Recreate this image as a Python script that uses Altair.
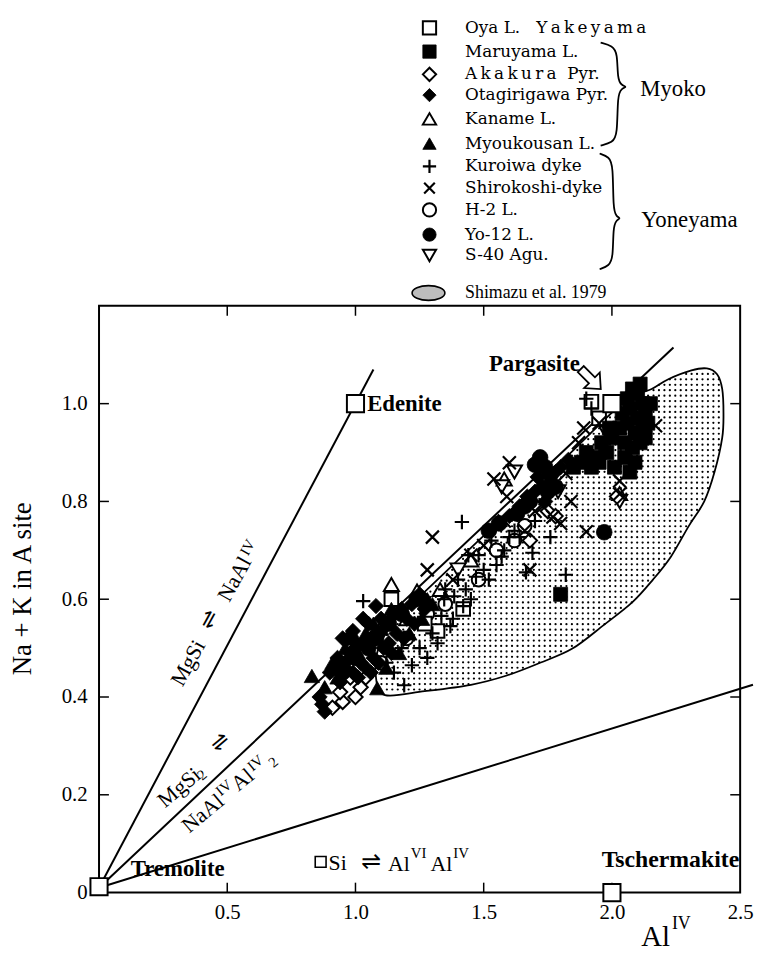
import altair as alt
import pandas as pd
import numpy as np

# ---------------- data ----------------
x_ticks = [0.5, 1.0, 1.5, 2.0, 2.5]
y_ticks = [0.0, 0.2, 0.4, 0.6, 0.8, 1.0]

endmember_names = ["Tremolite", "Edenite", "Pargasite", "Tschermakite"]
endmember_x = [0.0, 1.0, 2.0, 2.0]
endmember_y = [0.012, 1.0, 1.0, 0.0]

line_edenite_x = [0.0, 1.07]
line_edenite_y = [0.01, 1.07]
line_pargasite_x = [0.0, 2.24]
line_pargasite_y = [0.01, 1.115]
line_tscherm_x = [0.0, 2.55]
line_tscherm_y = [0.01, 0.425]

shimazu_x = [1.115, 1.27, 1.45, 1.59, 1.72, 1.846, 1.97, 2.08, 2.16, 2.23,
             2.30, 2.36, 2.40, 2.43, 2.435, 2.43, 2.41, 2.37, 2.31, 2.22,
             2.155, 2.05, 1.85, 1.65, 1.45, 1.28, 1.16, 1.09, 1.08]
shimazu_y = [0.404, 0.412, 0.425, 0.444, 0.47, 0.499, 0.548, 0.594, 0.64, 0.687,
             0.75, 0.80, 0.86, 0.93, 0.98, 1.03, 1.06, 1.072, 1.068, 1.05,
             1.03, 1.005, 0.905, 0.805, 0.705, 0.62, 0.56, 0.50, 0.44]

oya_x = [1.92, 1.14, 1.32, 1.27, 1.42, 1.95]
oya_y = [1.004, 0.60, 0.535, 0.55, 0.58, 0.97]

maruyama_x = [2.08, 2.10, 2.12, 2.07, 2.10, 2.13, 2.06, 2.09, 2.12, 2.05,
              2.08, 2.11, 2.05, 2.09, 2.15, 2.14, 2.03, 2.04, 1.98, 1.95,
              1.92, 1.88, 1.85, 1.90, 1.96, 2.00, 2.01, 2.07, 1.80, 2.11,
              2.13, 2.06, 1.93, 1.99]
maruyama_y = [1.03, 1.02, 1.00, 0.99, 0.97, 0.98, 0.96, 0.94, 0.95, 0.92,
              0.91, 0.92, 0.89, 0.88, 1.00, 0.96, 0.95, 0.98, 0.90, 0.88,
              0.87, 0.88, 0.87, 0.90, 0.92, 0.93, 0.87, 0.86, 0.61, 1.04,
              0.93, 1.01, 0.89, 0.95]

akakura_x = [0.91, 0.95, 1.00, 1.02, 0.94, 0.98, 1.04, 1.75, 1.78, 2.02, 1.68]
akakura_y = [0.378, 0.39, 0.40, 0.42, 0.41, 0.44, 0.44, 0.78, 0.77, 0.81, 0.72]

otagiri_x = [0.87, 0.88, 0.86, 0.90, 0.92, 0.96, 0.99, 1.08, 1.03, 1.06,
             1.00, 0.98, 1.02, 1.05, 1.10, 1.12, 1.15, 1.09, 0.94, 1.01,
             1.04, 1.07, 1.13, 1.18, 0.95, 1.73, 1.76, 1.70, 1.78, 1.67,
             1.16, 1.20, 1.22, 1.25, 1.11, 1.14, 1.19, 1.23, 1.27, 1.06,
             1.09, 0.99, 0.93, 0.97, 1.03, 1.71, 1.74, 1.60, 1.64, 1.80, 1.83]
otagiri_y = [0.385, 0.37, 0.40, 0.45, 0.46, 0.47, 0.535, 0.586, 0.51, 0.52,
             0.50, 0.49, 0.47, 0.55, 0.56, 0.55, 0.57, 0.53, 0.43, 0.44,
             0.46, 0.48, 0.51, 0.58, 0.52, 0.83, 0.84, 0.82, 0.86, 0.81,
             0.53, 0.56, 0.59, 0.61, 0.50, 0.49, 0.52, 0.55, 0.58, 0.45,
             0.47, 0.45, 0.48, 0.52, 0.56, 0.85, 0.80, 0.77, 0.79, 0.87, 0.885]

kaname_x = [1.14, 1.24, 1.58, 2.03, 1.16, 1.33, 1.45, 1.20]
kaname_y = [0.63, 0.617, 0.846, 0.816, 0.58, 0.62, 0.68, 0.56]

myoukousan_x = [0.83, 1.085, 0.88, 0.93, 0.97, 1.01, 1.04, 1.07, 1.10, 1.14,
                0.96, 1.00, 1.28, 0.91, 1.12, 1.17, 1.21, 1.26, 1.30]
myoukousan_y = [0.443, 0.418, 0.42, 0.44, 0.46, 0.49, 0.53, 0.55, 0.54, 0.58,
                0.50, 0.52, 0.60, 0.47, 0.46, 0.49, 0.53, 0.56, 0.59]

kuroiwa_x = [1.03, 1.415, 1.82, 1.19, 1.90, 1.92, 1.665, 1.69, 1.76, 1.60,
             1.57, 1.50, 1.47, 1.43, 1.385, 1.346, 1.64, 1.15, 1.22, 1.32,
             1.37, 1.42, 1.335, 1.25, 1.30, 1.38, 1.45, 1.52, 1.55, 1.58,
             1.62, 1.70, 1.28, 1.18, 1.12, 1.40, 1.48, 1.35, 1.44, 1.53]
kuroiwa_y = [0.596, 0.758, 0.65, 0.424, 1.01, 0.99, 0.655, 0.695, 0.727, 0.727,
             0.687, 0.66, 0.646, 0.62, 0.606, 0.60, 0.727, 0.45, 0.465, 0.51,
             0.545, 0.586, 0.566, 0.50, 0.53, 0.56, 0.60, 0.64, 0.67, 0.70,
             0.74, 0.76, 0.48, 0.50, 0.47, 0.64, 0.69, 0.62, 0.69, 0.72]

shirokoshi_x = [2.17, 1.60, 1.54, 1.30, 1.90, 2.03, 2.03, 1.89, 1.77, 1.80,
                1.68, 1.28, 1.59, 1.73, 1.82, 1.95, 1.87, 1.66, 1.50, 1.45,
                1.38, 1.70, 1.58, 1.84]
shirokoshi_y = [0.955, 0.879, 0.846, 0.727, 0.738, 0.842, 0.815, 0.95, 0.768, 0.755,
                0.66, 0.66, 0.81, 0.79, 0.857, 0.96, 0.92, 0.74, 0.71, 0.69,
                0.64, 0.78, 0.76, 0.80]

h2_x = [1.20, 1.35, 1.48, 1.55, 1.62, 1.10, 1.28, 1.66]
h2_y = [0.52, 0.59, 0.64, 0.70, 0.72, 0.47, 0.57, 0.75]

yo12_x = [1.72, 1.74, 1.70, 1.76, 1.66, 1.63, 1.56, 1.52, 1.97, 1.68,
          1.78, 1.75, 1.00, 1.05, 0.95, 1.08, 1.13, 1.18, 1.24]
yo12_y = [0.89, 0.87, 0.875, 0.855, 0.79, 0.775, 0.755, 0.74, 0.737, 0.80,
          0.83, 0.82, 0.48, 0.50, 0.45, 0.52, 0.55, 0.57, 0.60]

s40_x = [1.57, 2.03, 1.62, 1.79, 1.98, 1.40]
s40_y = [0.83, 0.80, 0.86, 0.82, 0.94, 0.66]

TS = "\u2009"
legend_labels = ["Oya L.\u00a0\u00a0 " + TS.join("Yakeyama"), "Maruyama L.",
                 TS.join("Akakura") + "\u00a0\u00a0Pyr.", "Otagirigawa Pyr.",
                 "Kaname L.", "Myoukousan L.", "Kuroiwa dyke", "Shirokoshi-dyke",
                 "H-2 L.", "Yo-12 L.", "S-40 Agu."]
shimazu_label = "Shimazu et al. 1979"

# ---------------- layout / style ----------------
W, H = 648, 593
X0, Y0 = 100, 304          # page position of the plot area's top-left corner
XD, YD = [0.0, 2.5], [0.0, 1.2]
SERIF = "Liberation Serif"
LEGF = "DejaVu Serif"
STIPPLE_STEP = 5.5         # px spacing of the stipple texture

PLUS = "M-1,0L1,0M0,-1L0,1"
XMARK = "M-0.8,-0.8L0.8,0.8M-0.8,0.8L0.8,-0.8"
ELLIPSE = "M-1,0A1,0.45,0,1,0,1,0A1,0.45,0,1,0,-1,0Z"
ARROW = "M-0.3,-1L0.3,-1L0.3,0.12L0.78,0.12L0,1L-0.78,0.12L-0.3,0.12Z"

def vx(px):
    return px - X0

def vy(py):
    return py - Y0

def dx(px):
    return (px - X0) / W * (XD[1] - XD[0]) + XD[0]

def dy(py):
    return (Y0 + H - py) / H * (YD[1] - YD[0]) + YD[0]

xs = alt.Scale(domain=XD, nice=False, zero=False)
ys = alt.Scale(domain=YD, nice=False, zero=False)
xaxis = alt.Axis(values=x_ticks, format=".1f", labelFont=SERIF, labelFontSize=21,
                 labelColor="black", ticks=False, domain=False, grid=False,
                 labelPadding=9, title=None, labelFlush=False, labelOverlap=False)
yaxis = alt.Axis(values=y_ticks, labelExpr="datum.value == 0 ? '0' : format(datum.value, '.1f')",
                 labelFont=SERIF, labelFontSize=21, labelColor="black", ticks=False,
                 domain=False, grid=False, labelPadding=12, title=None,
                 labelFlush=False, labelOverlap=False)
XN = alt.X("x:Q", scale=xs, axis=xaxis)
YN = alt.Y("y:Q", scale=ys, axis=yaxis)

layers = []

# --- Shimazu et al. (1979) field: white region with a stipple texture ---
blob_df = pd.DataFrame({"x": shimazu_x, "y": shimazu_y, "o": list(range(len(shimazu_x)))})
layers.append(
    alt.Chart(blob_df).mark_line(interpolate="cardinal-closed", fill="white",
                                 stroke="black", strokeWidth=1.8)
    .encode(x=XN, y=YN, order="o:Q")
)

# texture: a regular pixel grid of dots kept inside the outline
poly_px = np.array([[X0 + (a - XD[0]) / (XD[1] - XD[0]) * W,
                     Y0 + H - (b - YD[0]) / (YD[1] - YD[0]) * H]
                    for a, b in zip(shimazu_x, shimazu_y)])
gx = np.arange(poly_px[:, 0].min(), poly_px[:, 0].max(), STIPPLE_STEP)
gy = np.arange(poly_px[:, 1].min(), poly_px[:, 1].max(), STIPPLE_STEP)
GX, GY = np.meshgrid(gx, gy)
GX, GY = GX.ravel(), GY.ravel()
inside = np.zeros(GX.shape, dtype=bool)
n = len(poly_px)
for i in range(n):
    x1, y1 = poly_px[i]
    x2, y2 = poly_px[(i + 1) % n]
    cond = (y1 > GY) != (y2 > GY)
    xint = x1 + (GY - y1) * (x2 - x1) / (y2 - y1 + 1e-12)
    inside ^= cond & (GX < xint)
dots_df = pd.DataFrame({"x": [dx(v) for v in GX[inside]], "y": [dy(v) for v in GY[inside]]})
layers.append(alt.Chart(dots_df).mark_point(shape="circle", filled=True, color="black",
                                            size=5, opacity=1)
              .encode(x=XN, y=YN))

# --- substitution lines ---
lines_df = pd.DataFrame({
    "x": line_edenite_x + line_pargasite_x + line_tscherm_x,
    "y": line_edenite_y + line_pargasite_y + line_tscherm_y,
    "g": ["e", "e", "p", "p", "t", "t"],
    "o": [0, 1, 0, 1, 0, 1],
})
layers.append(
    alt.Chart(lines_df).mark_line(color="black", strokeWidth=2)
    .encode(x=XN, y=YN, detail="g:N", order="o:Q")
)

# --- inward ticks ---
ty = pd.DataFrame({"y": [v for v in y_ticks if v > 0]})
tx = pd.DataFrame({"x": x_ticks[:-1]})
layers.append(alt.Chart(ty).mark_rule(color="black", strokeWidth=1.5)
              .encode(y=YN, x=alt.value(0), x2=alt.value(10)))
layers.append(alt.Chart(ty).mark_rule(color="black", strokeWidth=1.5)
              .encode(y=YN, x=alt.value(W), x2=alt.value(W - 10)))
layers.append(alt.Chart(tx).mark_rule(color="black", strokeWidth=1.5)
              .encode(x=XN, y=alt.value(0), y2=alt.value(10)))
layers.append(alt.Chart(tx).mark_rule(color="black", strokeWidth=1.5)
              .encode(x=XN, y=alt.value(H), y2=alt.value(H - 10)))

# --- sample symbols ---
STYLE = {
    "oya": ("square", "open", 190),
    "maruyama": ("square", "filled", 200),
    "akakura": ("diamond", "open", 210),
    "otagiri": ("diamond", "filled", 240),
    "kaname": ("triangle-up", "open", 230),
    "myoukousan": ("triangle-up", "filled", 240),
    "kuroiwa": (PLUS, "line", 210),
    "shirokoshi": (XMARK, "line", 270),
    "h2": ("circle", "open", 190),
    "yo12": ("circle", "filled", 250),
    "s40": ("triangle-down", "open", 230),
}


def sym_mark(chart, key, size=None):
    shape, kind, sz = STYLE[key]
    sz = size if size is not None else sz
    if kind == "filled":
        return chart.mark_point(shape=shape, filled=True, fill="black", stroke="black",
                                strokeWidth=0.8, size=sz, opacity=1)
    if kind == "open":
        return chart.mark_point(shape=shape, filled=True, fill="white", stroke="black",
                                strokeWidth=2, size=sz, opacity=1)
    return chart.mark_point(shape=shape, filled=False, stroke="black", strokeWidth=2.2,
                            size=sz, opacity=1)


series = [
    ("h2", h2_x, h2_y), ("kaname", kaname_x, kaname_y), ("s40", s40_x, s40_y),
    ("akakura", akakura_x, akakura_y), ("oya", oya_x, oya_y),
    ("kuroiwa", kuroiwa_x, kuroiwa_y), ("shirokoshi", shirokoshi_x, shirokoshi_y),
    ("myoukousan", myoukousan_x, myoukousan_y), ("otagiri", otagiri_x, otagiri_y),
    ("yo12", yo12_x, yo12_y), ("maruyama", maruyama_x, maruyama_y),
]
for key, sx, sy in series:
    df = pd.DataFrame({"x": sx, "y": sy})
    layers.append(sym_mark(alt.Chart(df), key).encode(x=XN, y=YN))

# --- end members ---
em_df = pd.DataFrame({"x": endmember_x, "y": endmember_y, "n": endmember_names})
layers.append(alt.Chart(em_df).mark_point(shape="square", filled=True, fill="white",
                                          stroke="black", strokeWidth=2, size=300, opacity=1)
              .encode(x=XN, y=YN))


def txt(s, px, py, size, weight="normal", font=SERIF, align="left", angle=0, baseline="middle"):
    return (alt.Chart(pd.DataFrame({"t": [s]}))
            .mark_text(align=align, baseline=baseline, font=font, fontSize=size,
                       fontWeight=weight, angle=angle % 360, color="black")
            .encode(x=alt.value(vx(px)), y=alt.value(vy(py)), text="t:N"))


def glyph(shape, px, py, size, fill="white", angle=0, sw=1.6):
    return (alt.Chart(pd.DataFrame({"k": [0]}))
            .mark_point(shape=shape, filled=True, fill=fill, stroke="black", strokeWidth=sw,
                        size=size, opacity=1, angle=angle % 360)
            .encode(x=alt.value(vx(px)), y=alt.value(vy(py))))


# end-member labels
layers.append(txt("Edenite", 371, 403, 23, "bold"))
layers.append(txt("Pargasite", 586, 363, 23, "bold", align="right"))
layers.append(txt("Tremolite", 132, 873, 23, "bold"))
layers.append(txt("Tschermakite", 608, 864, 24, "bold"))
layers.append(glyph(ARROW, 597, 378, 820, angle=-45, sw=1.8))

# substitution labels
layers.append(glyph("square", 324, 866, 120, sw=1.6))
layers.append(txt("Si", 332, 867, 22))
layers.append(txt("\u21cc", 375, 866, 24, font="DejaVu Sans", align="center"))
layers.append(txt("Al", 392, 868, 22))
layers.append(txt("VI", 415, 857, 15))
layers.append(txt("Al", 435, 868, 22))
layers.append(txt("IV", 458, 857, 15))

A1 = -61
layers.append(txt("MgSi", 190, 665, 22, align="center", angle=A1))
layers.append(txt("\u21cc", 211, 621, 22, font="DejaVu Sans", align="center", angle=A1))
layers.append(txt("NaAl", 237, 580, 22, align="center", angle=A1))
layers.append(txt("IV", 250, 548, 15, align="center", angle=A1))

A2 = -40
layers.append(txt("MgSi", 181, 791, 22, align="center", angle=A2))
layers.append(txt("2", 204, 778, 15, align="center", angle=A2))
layers.append(txt("\u21cc", 222, 745, 22, font="DejaVu Sans", align="center", angle=A2))
layers.append(txt("NaAl", 205, 817, 22, align="center", angle=A2))
layers.append(txt("IV", 226, 791, 15, align="center", angle=A2))
layers.append(txt("Al", 245, 783, 22, align="center", angle=A2))
layers.append(txt("IV", 258, 766, 15, align="center", angle=A2))
layers.append(txt("2", 276, 765, 15, align="center", angle=A2))

# axis titles
layers.append(txt("Na + K in A site", 23, 590, 27, align="center", angle=270))
layers.append(txt("Al", 648, 942, 29))
layers.append(txt("IV", 679, 929, 18))

# --- legend ---
row_y = [23, 47, 70, 91, 115, 140, 163, 185, 207, 232, 253]
order_keys = ["oya", "maruyama", "akakura", "otagiri", "kaname", "myoukousan",
              "kuroiwa", "shirokoshi", "h2", "yo12", "s40"]
for i, key in enumerate(order_keys):
    sym = sym_mark(alt.Chart(pd.DataFrame({"k": [0]})), key, size=180)
    layers.append(sym.encode(x=alt.value(vx(434)), y=alt.value(vy(row_y[i]))))
    layers.append(txt(legend_labels[i], 470, row_y[i], 17, font=LEGF))
layers.append(glyph(ELLIPSE, 433, 291, 1100, fill="#bdbdbd", sw=1.6))
layers.append(txt(shimazu_label, 470, 291, 18, font=SERIF))

# braces
def brace(x0, ytop, ybot, w, tip, gid):
    tmpl = [(0, 0), (0.6, 0.03), (0.85, 0.1), (0.85, tip - 0.08), (1.05, tip - 0.015),
            (1.35, tip), (1.05, tip + 0.015), (0.85, tip + 0.08), (0.85, 0.9),
            (0.6, 0.97), (0, 1)]
    rows = []
    for k, (a, b) in enumerate(tmpl):
        rows.append({"x": dx(x0 + w * a), "y": dy(ytop + (ybot - ytop) * b), "o": k, "g": gid})
    return rows

brace_df = pd.DataFrame(brace(607, 38, 142, 20, 0.43, "m") + brace(606, 150, 267, 16, 0.56, "y"))
layers.append(alt.Chart(brace_df).mark_line(color="black", strokeWidth=1.8, interpolate="basis")
              .encode(x=XN, y=YN, order="o:Q", detail="g:N"))
layers.append(txt("Myoko", 647, 85, 23))
layers.append(txt("Yoneyama", 648, 217, 23))

chart = (
    alt.layer(*layers)
    .properties(width=W, height=H, background="white",
                padding={"left": 92, "top": 296, "right": 14, "bottom": 54},
                autosize=alt.AutoSizeParams(type="none"))
    .configure_view(stroke="black", strokeWidth=2)
)

chart.save("out.html", embed_options={"renderer": "svg", "actions": False})
